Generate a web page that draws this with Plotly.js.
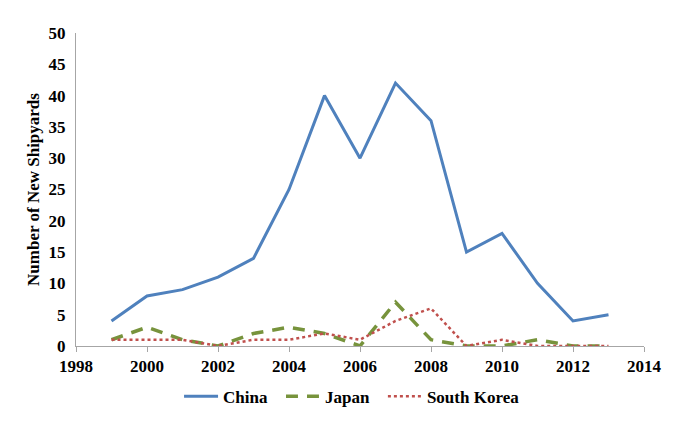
<!DOCTYPE html>
<html>
<head>
<meta charset="utf-8">
<script src="https://cdn.plot.ly/plotly-3.0.1.min.js"></script>
<style>html,body{margin:0;padding:0;background:#fff;}#chart{width:678px;height:423px;}</style>
</head>
<body>
<div id="chart"></div>
<script>
const years = [1999,2000,2001,2002,2003,2004,2005,2006,2007,2008,2009,2010,2011,2012,2013];
const china = [4,8,9,11,14,25,40,30,42,36,15,18,10,4,5];
const japan = [1,3,1,0,2,3,2,0,7,1,0,0,1,0,0];
const southKorea = [1,1,1,0,1,1,2,1,4,6,0,1,0,0,0];
const seriesNames = ['China','Japan','South Korea'];

const FAM = 'Liberation Serif';
const tf = {family: FAM, size: 17, color: '#000', weight: 'bold'};
const pad = '\u00a0\u00a0';

const traces = [
  {x: years, y: china, name: seriesNames[0] + pad, type: 'scatter', mode: 'lines',
   line: {color: '#4F81BD', width: 3}},
  {x: years, y: japan, name: seriesNames[1] + pad, type: 'scatter', mode: 'lines',
   line: {color: '#77933C', width: 3.5, dash: '12px,9px'}},
  {x: years, y: southKorea, name: seriesNames[2], type: 'scatter', mode: 'lines',
   line: {color: '#C0504D', width: 2.5, dash: 'dot'}}
];

const layout = {
  width: 678, height: 423,
  margin: {l: 76, r: 34, t: 33, b: 77},
  paper_bgcolor: '#fff', plot_bgcolor: '#fff',
  font: {family: FAM, size: 17, color: '#000'},
  showlegend: true,
  legend: {orientation: 'h', x: 0.486, xanchor: 'center', yref: 'container', y: 0.062, yanchor: 'middle',
           font: tf, itemwidth: 34},
  xaxis: {range: [1998, 2014], tickmode: 'linear', tick0: 1998, dtick: 2, automargin: false,
          showgrid: false, zeroline: false, showline: true, linecolor: '#A6A6A6', linewidth: 1,
          ticks: 'outside', ticklen: 5, tickcolor: '#A6A6A6',
          tickfont: tf},
  yaxis: {range: [0, 50], tickmode: 'linear', tick0: 0, dtick: 5, automargin: false,
          showgrid: false, zeroline: false, showline: true, linecolor: '#A6A6A6', linewidth: 1,
          ticks: '', ticklen: 0, ticklabelstandoff: 6,
          tickfont: tf,
          title: {text: 'Number of New Shipyards', standoff: 4, font: tf}}
};

Plotly.newPlot('chart', traces, layout, {displayModeBar: false, staticPlot: true});
</script>
</body>
</html>
